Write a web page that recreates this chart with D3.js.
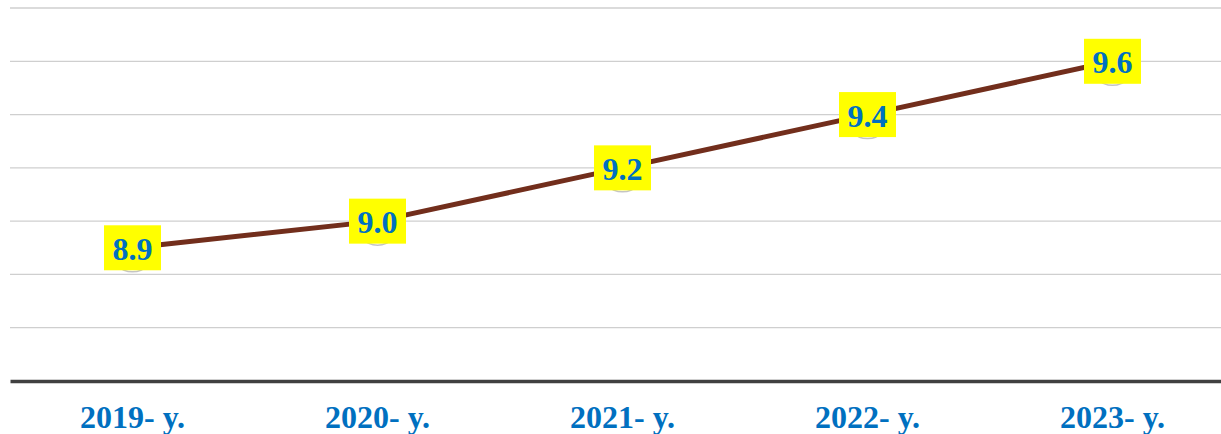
<!DOCTYPE html>
<html lang="en">
<head>
<meta charset="UTF-8">
<title>Line chart 2019-2023</title>
<style>
  body { margin: 0; background: #fff; }
  svg { display: block; }
</style>
</head>
<body>
<figure id="chart" style="margin:0"></figure>
<script src="https://cdn.jsdelivr.net/npm/d3@7"></script>
<script>
  // data
  var years = ["2019- y.", "2020- y.", "2021- y.", "2022- y.", "2023- y."];
  var values = [8.9, 9.0, 9.2, 9.4, 9.6];
  var yTicks = [8.4, 8.6, 8.8, 9.0, 9.2, 9.4, 9.6, 9.8];

  var w = 1221, h = 434;
  var margin = {top: 8, right: -14, bottom: 53, left: 10};
  var width = w - margin.left - margin.right,
      height = h - margin.top - margin.bottom;

  var svg = d3.select("#chart").append("svg")
    .attr("width", w).attr("height", h)
    .append("g")
    .attr("transform", `translate(${margin.left},${margin.top})`);

  var x = d3.scaleBand().domain(years).range([0, width]);
  var y = d3.scaleLinear().domain([8.4, 9.8]).range([height, 0]);

  // gridlines
  svg.append("g")
    .selectAll("line")
    .data(yTicks.slice(1))
    .enter()
    .append("line")
    .attr("x1", 0).attr("x2", width)
    .attr("y1", d => y(d)).attr("y2", d => y(d))
    .attr("stroke", "#cfcfcf")
    .attr("stroke-width", 1.3);

  // x axis
  var xAxis = svg.append("g")
    .attr("transform", `translate(0,${height})`)
    .call(d3.axisBottom(x).tickSize(0).tickPadding(24));
  xAxis.select(".domain")
    .attr("stroke", "#404040")
    .attr("stroke-width", 3.5);
  xAxis.selectAll("text")
    .attr("font-family", "'Liberation Serif', 'Times New Roman', serif")
    .attr("font-weight", "bold")
    .attr("font-size", "32px")
    .attr("fill", "#0070C0");

  var pts = years.map((d, i) => ({year: d, value: values[i]}));
  var cx = d => x(d.year) + x.bandwidth() / 2;

  // line
  svg.append("path")
    .datum(pts)
    .attr("fill", "none")
    .attr("stroke", "#722E1C")
    .attr("stroke-width", 5)
    .attr("d", d3.line().x(cx).y(d => y(d.value)));

  // markers
  svg.selectAll("circle.mk")
    .data(pts)
    .enter()
    .append("circle")
    .attr("class", "mk")
    .attr("cx", cx)
    .attr("cy", d => y(d.value) + 1.5)
    .attr("r", 22.5)
    .attr("fill", "#fff")
    .attr("stroke", "#c4c4c4")
    .attr("stroke-width", 1.5);

  // labels
  var lab = svg.selectAll("g.lab")
    .data(pts)
    .enter()
    .append("g")
    .attr("class", "lab")
    .attr("transform", d => `translate(${cx(d)},${y(d.value)})`);

  lab.append("rect")
    .attr("x", -28.5).attr("y", -22.5)
    .attr("width", 57).attr("height", 45)
    .attr("fill", "#FFFF00");

  lab.append("text")
    .attr("text-anchor", "middle")
    .attr("y", 12)
    .attr("font-family", "'Liberation Serif', 'Times New Roman', serif")
    .attr("font-weight", "bold")
    .attr("font-size", "32px")
    .attr("fill", "#0070C0")
    .text(d => d3.format(".1f")(d.value));
</script>
</body>
</html>
